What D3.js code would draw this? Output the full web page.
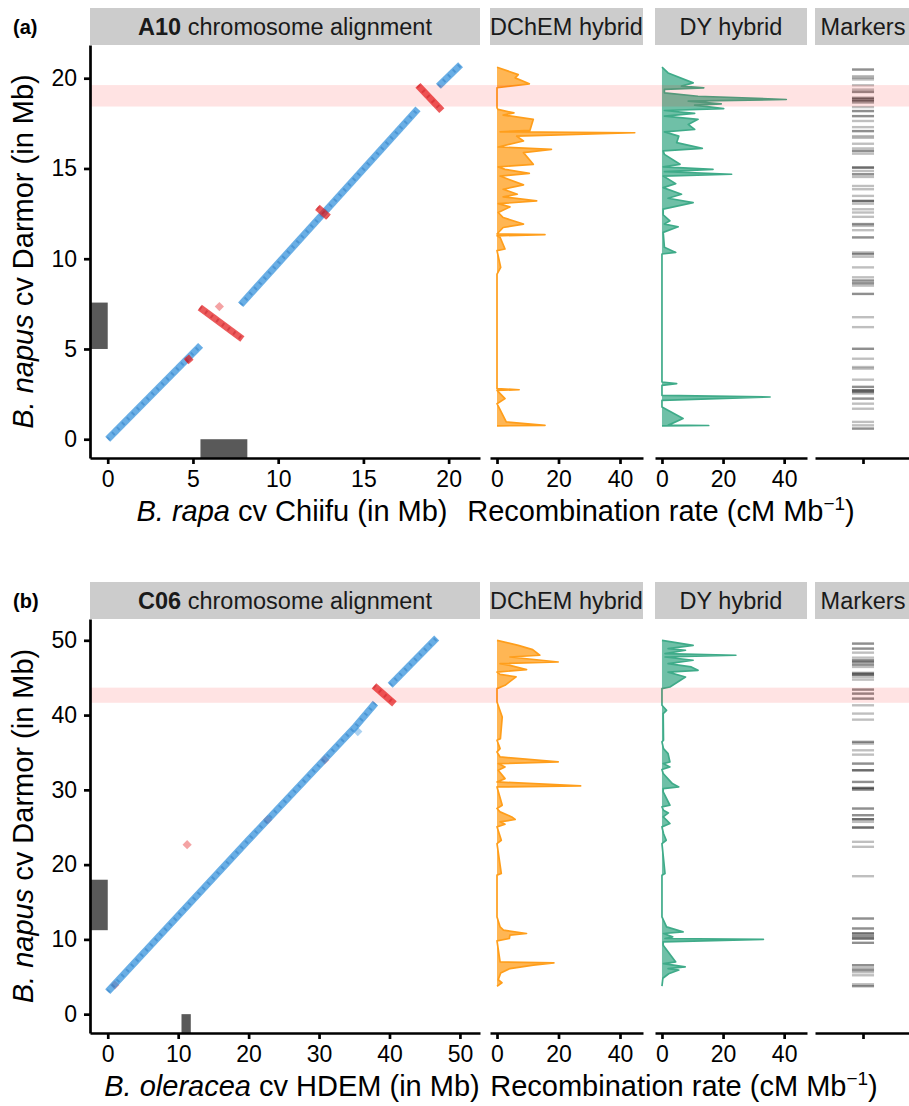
<!DOCTYPE html>
<meta charset="utf-8">
<title>A10 / C06 chromosome alignment</title>
<style>
  body { margin: 0; background: #fff; }
  svg { display: block; }
</style>
<body>
<div id="chart"></div>
<script src="https://d3js.org/d3.v7.min.js"></script>
<script>
// ---------- data (positions in Mb, rates in cM/Mb) ----------

// (a) A10 : B. rapa (x) vs B. napus (y)
var a10Blue = [
  [[0, 0], [5.45, 5.2]],
  [[7.8, 7.45], [18.2, 18.3]],
  [[19.4, 19.55], [20.7, 20.75]]
];
var a10Red = [
  [[4.6, 4.3], [4.9, 4.55]],
  [[5.4, 7.3], [7.9, 5.55]],
  [[12.3, 12.85], [12.95, 12.3]],
  [[18.2, 19.6], [19.6, 18.2]]
];
var a10RedDots = [[6.55, 7.35]];
var a10BlueDots = [];
var a10NapusRegion = [5.0, 7.57];
var a10RefRegion = [5.44, 8.19];
var a10Band = [18.43, 19.62];
var a10Ticks = [0, 5, 10, 15, 20];

var a10Dchem = [[20.61,0],[20.2,6.9],[20.02,5.9],[19.69,10.5],[19.47,0],[18.36,0],[18.27,0.3],[18.08,5.5],
  [17.96,2],[17.72,11.8],[17.11,10.7],[17.03,1],[16.98,44.8],[16.79,6.4],[16.52,8.6],[16.19,0.4],[16.06,17.7],
  [15.88,8.6],[15.23,11.8],[15.09,0.4],[14.95,2.6],[14.73,10.5],[14.58,1],[14.09,8.6],[13.85,2],[13.57,6.6],
  [13.43,2],[13.2,12.9],[13.05,0.4],[12.87,4.2],[12.56,0.4],[12.28,2],[11.92,8.6],[11.73,2],[11.37,0],
  [11.33,15.6],[11.27,0],[11.18,1],[10.54,2.6],[10.45,0],[9.52,1.2],[9.15,0],[2.8,0],[2.74,7.2],[2.71,0],
  [2.25,2.6],[1.97,0],[0.96,3],[0.77,15.6],[0.74,0]];
var a10Dy = [[20.61,0],[20.29,2],[19.74,10.2],[19.56,6.4],[19.47,13.7],[19.38,0.8],[19.19,0.8],[19.0,11.8],
  [18.82,40.7],[18.73,8.6],[18.58,19.4],[18.51,10.7],[18.32,20.2],[18.21,0.8],[18.05,10.7],[17.9,0.8],
  [17.72,11.8],[17.44,8.6],[17.16,10.7],[17.03,0.8],[16.79,5.5],[16.43,4.8],[16.11,13.2],[15.97,0.4],
  [15.78,0.8],[15.23,5.9],[15.09,0.4],[14.95,16.7],[14.82,0.8],[14.68,22.8],[14.58,0.4],[14.16,4.5],
  [13.94,0.4],[13.57,6.4],[13.35,2],[13.11,10.2],[12.75,0.4],[12.43,0.4],[12.1,2.6],[11.92,0.8],[11.77,5.3],
  [11.46,0.4],[10.63,0.8],[10.35,4.5],[10.26,0],[3.17,0],[3.08,4.8],[2.98,0],[2.43,0],[2.34,35.4],[2.15,0],
  [1.79,0],[1.15,6.9],[0.78,2.1],[0.76,15.3],[0.74,0]];
var a10Markers = [20.48,20.48,20.11,20.02,19.93,19.61,19.37,19.24,19.24,18.91,18.91,18.82,18.82,18.73,18.73,
  18.64,18.4,18.18,18.18,17.9,17.9,17.63,17.29,17.07,17.07,16.79,16.7,16.37,16.11,15.97,15.97,15.82,
  15.05,15.05,15.05,14.86,14.68,14.68,14.53,14.03,13.85,13.48,13.2,13.2,13.2,13.05,12.74,12.56,12.32,
  11.92,11.92,11.82,11.58,11.18,11.18,10.35,10.26,10.26,10.11,9.52,8.97,8.79,8.79,8.64,8.64,8.51,8.05,8.05,
  6.76,6.21,5.01,5.01,4.46,4.0,3.91,3.3,2.9,2.9,2.71,2.71,2.71,2.62,2.62,2.53,2.25,2.25,1.97,1.69,0.96,
  0.77,0.59,0.59];

// (b) C06 : B. oleracea (x) vs B. napus (y)
var c06Blue = [
  [[0, 3.0], [20, 23.3], [35.2, 38.5], [38, 41.6]],
  [[40.1, 44.0], [46.7, 50.3]]
];
var c06Red = [
  [[37.8, 43.9], [40.7, 41.5]]
];
var c06RedDots = [[11.27, 22.67], [1.0, 3.9], [22.7, 26.0], [30.8, 34.0]];
var c06BlueDots = [[35.5, 37.8]];
var c06NapusRegion = [11.23, 17.98];
var c06RefRegion = [10.47, 11.79];
var c06Band = [41.64, 43.67];
var c06Ticks = [0, 10, 20, 30, 40, 50];

var c06Dchem = [[50.0,0],[49.33,6.9],[48.75,11.6],[48.0,13.9],[47.77,4.2],[47.1,19.9],[46.88,1],[46.65,4.2],
  [46.08,9.6],[45.75,0],[45.45,1],[45.1,6.2],[43.98,2.6],[43.54,0],[41.75,0],[39.75,1.7],[36.85,1.1],
  [36.63,0],[35.51,1],[35.07,0],[34.4,1],[33.73,19.9],[33.51,0.4],[33.07,2.6],[32.62,0.4],[31.5,2.6],
  [31.06,0],[30.52,27.2],[30.39,0],[27.94,1.7],[27.5,0],[27.05,1],[26.38,4.8],[26.03,5.9],[25.72,1],
  [25.4,2.6],[25.05,0],[23.26,1.4],[22.81,0],[18.81,1.4],[18.59,0],[13.01,0],[11.68,1],[11.23,2.1],
  [10.79,9.6],[10.56,4.2],[10.12,4],[9.8,0],[6.99,1],[6.86,18.5],[6.55,11.8],[6.1,4.2],[5.5,1.2],
  [4.6,0.4],[4.2,1.6],[3.74,0]];
var c06Dy = [[50.0,0],[49.33,10.2],[48.9,2],[48.67,7.7],[48.22,1],[48.0,24.2],[47.77,1],[47.33,10.2],
  [46.88,2],[46.44,9.6],[45.99,11.8],[45.75,2],[45.1,7.7],[43.76,2.6],[43.54,0],[41.31,0],[40.64,1.5],
  [40.2,0.4],[36.63,0.5],[36.41,0],[35.51,0.5],[34.85,2],[33.73,2.6],[33.51,0.4],[33.07,2.6],[32.72,0],
  [32.18,0.4],[30.84,3.4],[30.39,5.5],[30.17,0.4],[29.73,0.4],[27.94,2.6],[27.72,0],[27.27,0.5],
  [26.92,2.1],[26.38,0.4],[25.94,1.5],[25.49,2.6],[25.05,0],[24.16,0.5],[23.26,1.4],[22.81,0],[18.81,1],
  [18.59,0],[13.01,0],[11.68,1.5],[11.0,6.9],[10.79,0.5],[10.34,3.5],[10.12,1],[9.99,33.2],[9.67,0.4],
  [9.22,0.4],[6.99,4.5],[6.77,0.5],[6.32,7.6],[6.1,2],[5.9,5.5],[5.4,2.2],[4.8,0.3],[3.74,0]];
var c06Markers = [49.56,49.56,48.89,48.89,48.35,47.68,47.33,47.33,47.1,47.1,46.75,46.75,46.44,45.63,45.63,
  45.41,45.41,45.41,45.1,44.74,43.41,43.41,42.87,42.87,42.2,42.2,41.31,40.2,39.39,36.41,36.41,36.18,35.29,
  34.71,33.51,33.51,32.62,32.62,32.62,31.06,31.06,30.25,30.25,30.25,30.03,30.03,27.5,27.5,26.61,26.61,
  26.07,26.07,26.07,25.72,24.96,24.96,24.96,23.05,22.38,18.45,12.79,12.79,11.46,11.46,10.79,10.79,10.79,
  10.43,10.43,10.12,10.12,10.12,9.54,9.54,6.55,6.55,6.2,5.9,5.9,5.6,5.2,4.0,3.75,3.75];

var rateTicks = [0, 20, 40];
var rateDomain = [-2.28, 47.48];

// ---------- layout ----------
var W = 909, H = 1106;
var FONT = '"Liberation Sans", Arial, Helvetica, sans-serif';
var colDot = [90, 480], colDchem = [490, 643], colDy = [655, 807], colMark = [815, 911];

var rows = [
  { tag: "(a)", chrom: "A10", stripY: [8, 45], plotY: [45, 458], dom: [-1.04, 21.84], ticks: a10Ticks,
    refItalic: "B. rapa", refRest: " cv Chiifu (in Mb)", rateTitleX: 661,
    blue: a10Blue, red: a10Red, redDots: a10RedDots, blueDots: a10BlueDots,
    napusRegion: a10NapusRegion, refRegion: a10RefRegion, band: a10Band,
    dchem: a10Dchem, dy: a10Dy, markers: a10Markers },
  { tag: "(b)", chrom: "C06", stripY: [582, 619], plotY: [619, 1033], dom: [-2.52, 52.85], ticks: c06Ticks,
    refItalic: "B. oleracea", refRest: " cv HDEM (in Mb)", rateTitleX: 684,
    blue: c06Blue, red: c06Red, redDots: c06RedDots, blueDots: c06BlueDots,
    napusRegion: c06NapusRegion, refRegion: c06RefRegion, band: c06Band,
    dchem: c06Dchem, dy: c06Dy, markers: c06Markers }
];

var svg = d3.select("#chart").append("svg")
  .attr("width", W).attr("height", H)
  .style("font-family", FONT);

var diamond = "M0,-4.6L4.6,0L0,4.6L-4.6,0Z";

function styleAxis(sel) {
  sel.select(".domain").attr("stroke", "#000").attr("stroke-width", 2.7);
  sel.selectAll(".tick line").attr("stroke", "#000").attr("stroke-width", 2.7);
  sel.selectAll(".tick text").attr("fill", "#000").style("font-size", "23px").style("font-family", FONT);
}

function strip(g, x0, x1, y0, y1, build) {
  g.append("rect").attr("x", x0).attr("y", y0).attr("width", x1 - x0).attr("height", y1 - y0)
    .attr("fill", "#cccccc");
  var t = g.append("text").attr("x", (x0 + x1) / 2).attr("y", (y0 + y1) / 2 + 8)
    .attr("text-anchor", "middle").attr("fill", "#1a1a1a").style("font-size", "23.5px");
  build(t);
}

function drawRow(r) {
  var g = svg.append("g");
  var y = d3.scaleLinear().domain(r.dom).range([r.plotY[1], r.plotY[0]]);
  var x = d3.scaleLinear().domain(r.dom).range(colDot);
  var xc = d3.scaleLinear().domain(rateDomain).range(colDchem);
  var xd = d3.scaleLinear().domain(rateDomain).range(colDy);
  var xm = d3.scaleLinear().domain([-1, 1]).range(colMark);

  // strips
  strip(g, colDot[0], colDot[1], r.stripY[0], r.stripY[1], function(t) {
    t.append("tspan").attr("font-weight", "bold").text(r.chrom);
    t.append("tspan").text(" chromosome alignment");
  });
  strip(g, colDchem[0], colDchem[1], r.stripY[0], r.stripY[1], function(t) { t.text("DChEM hybrid"); });
  strip(g, colDy[0], colDy[1], r.stripY[0], r.stripY[1], function(t) { t.text("DY hybrid"); });
  strip(g, colMark[0], colMark[1], r.stripY[0], r.stripY[1], function(t) { t.text("Markers"); });

  g.append("text").attr("x", 13).attr("y", (r.stripY[0] + r.stripY[1]) / 2 + 7)
    .attr("font-weight", "bold").style("font-size", "20px").attr("fill", "#000").text(r.tag);

  // grey region boxes on the axes
  g.append("rect").attr("x", x(r.dom[0])).attr("width", x(0) - x(r.dom[0]))
    .attr("y", y(r.napusRegion[1])).attr("height", y(r.napusRegion[0]) - y(r.napusRegion[1]))
    .attr("fill", "#595959");
  g.append("rect").attr("x", x(r.refRegion[0])).attr("width", x(r.refRegion[1]) - x(r.refRegion[0]))
    .attr("y", y(0)).attr("height", y(r.dom[0]) - y(0))
    .attr("fill", "#595959");

  // alignment blocks
  var line = d3.line().x(function(d) { return x(d[0]); }).y(function(d) { return y(d[1]); });
  g.selectAll(".rdot").data(r.redDots).join("path")
    .attr("d", diamond).attr("transform", function(d) { return "translate(" + x(d[0]) + "," + y(d[1]) + ")"; })
    .attr("fill", "#e31a1c").attr("opacity", 0.4);
  g.selectAll(".bdot").data(r.blueDots).join("path")
    .attr("d", diamond).attr("transform", function(d) { return "translate(" + x(d[0]) + "," + y(d[1]) + ")"; })
    .attr("fill", "#2f8fdb").attr("opacity", 0.4);

  function blocks(data, col, dark) {
    g.append("g").selectAll("path").data(data).join("path")
      .attr("d", line).attr("fill", "none").attr("stroke", col)
      .attr("stroke-width", 7).attr("stroke-opacity", 0.72).attr("stroke-linejoin", "round");
    g.append("g").selectAll("path").data(data).join("path")
      .attr("d", line).attr("fill", "none").attr("stroke", dark)
      .attr("stroke-width", 4).attr("stroke-opacity", 0.3).attr("stroke-dasharray", "2,5");
  }
  blocks(r.blue, "#2f8fdb", "#0b5fb0");
  blocks(r.red, "#e31a1c", "#b00010");

  // recombination profiles
  function profile(data, xs, col) {
    var area = d3.area().y(function(d) { return y(d[0]); })
      .x0(xs(0)).x1(function(d) { return xs(d[1]); });
    var ln = d3.line().y(function(d) { return y(d[0]); }).x(function(d) { return xs(d[1]); });
    g.append("path").datum(data).attr("d", area).attr("fill", col).attr("fill-opacity", 0.75);
    g.append("path").datum(data).attr("d", ln).attr("fill", "none").attr("stroke", col)
      .attr("stroke-width", 1.7).attr("stroke-linejoin", "round");
  }
  profile(r.dchem, xc, "#ff9e1b");
  profile(r.dy, xd, "#3fab89");

  // markers
  g.append("g").selectAll("line").data(r.markers).join("line")
    .attr("x1", xm(-0.23)).attr("x2", xm(0.23))
    .attr("y1", function(d) { return y(d); }).attr("y2", function(d) { return y(d); })
    .attr("stroke", "#000").attr("stroke-opacity", 0.25).attr("stroke-width", 2.4);

  // highlighted band across all panels
  g.append("rect").attr("x", colDot[0]).attr("width", colMark[1] - colDot[0])
    .attr("y", y(r.band[1])).attr("height", y(r.band[0]) - y(r.band[1]))
    .attr("fill", "#ff0000").attr("opacity", 0.11);

  // axes
  var base = r.plotY[1];
  g.append("g").attr("transform", "translate(" + colDot[0] + ",0)")
    .call(d3.axisLeft(y).tickValues(r.ticks).tickSize(6).tickSizeOuter(0).tickPadding(7))
    .call(styleAxis);
  g.append("g").attr("transform", "translate(0," + base + ")")
    .call(d3.axisBottom(x).tickValues(r.ticks).tickSize(6).tickSizeOuter(0).tickPadding(7))
    .call(styleAxis);
  g.append("g").attr("transform", "translate(0," + base + ")")
    .call(d3.axisBottom(xc).tickValues(rateTicks).tickSize(6).tickSizeOuter(0).tickPadding(7))
    .call(styleAxis);
  g.append("g").attr("transform", "translate(0," + base + ")")
    .call(d3.axisBottom(xd).tickValues(rateTicks).tickSize(6).tickSizeOuter(0).tickPadding(7))
    .call(styleAxis);
  g.append("g").attr("transform", "translate(0," + base + ")")
    .call(d3.axisBottom(xm).tickValues([0]).tickFormat("").tickSize(6).tickSizeOuter(0))
    .call(styleAxis);

  // axis titles
  var xt = g.append("text").attr("x", (colDot[0] + colDot[1]) / 2 + 7).attr("y", base + 63)
    .attr("text-anchor", "middle").style("font-size", "29px").attr("fill", "#000");
  xt.append("tspan").attr("font-style", "italic").text(r.refItalic);
  xt.append("tspan").text(r.refRest);

  var rt = g.append("text").attr("x", r.rateTitleX).attr("y", base + 63)
    .attr("text-anchor", "middle").style("font-size", "29px").attr("fill", "#000");
  rt.append("tspan").text("Recombination rate (cM Mb");
  rt.append("tspan").attr("dy", -11).style("font-size", "19px").text("\u22121");
  rt.append("tspan").attr("dy", 11).text(")");

  var cy = (r.plotY[0] + r.plotY[1]) / 2;
  var yt = g.append("text").attr("transform", "translate(33," + cy + ") rotate(-90)")
    .attr("text-anchor", "middle").style("font-size", "29px").attr("fill", "#000");
  yt.append("tspan").attr("font-style", "italic").text("B. napus");
  yt.append("tspan").text(" cv Darmor (in Mb)");
}

rows.forEach(drawRow);
</script>
</body>
